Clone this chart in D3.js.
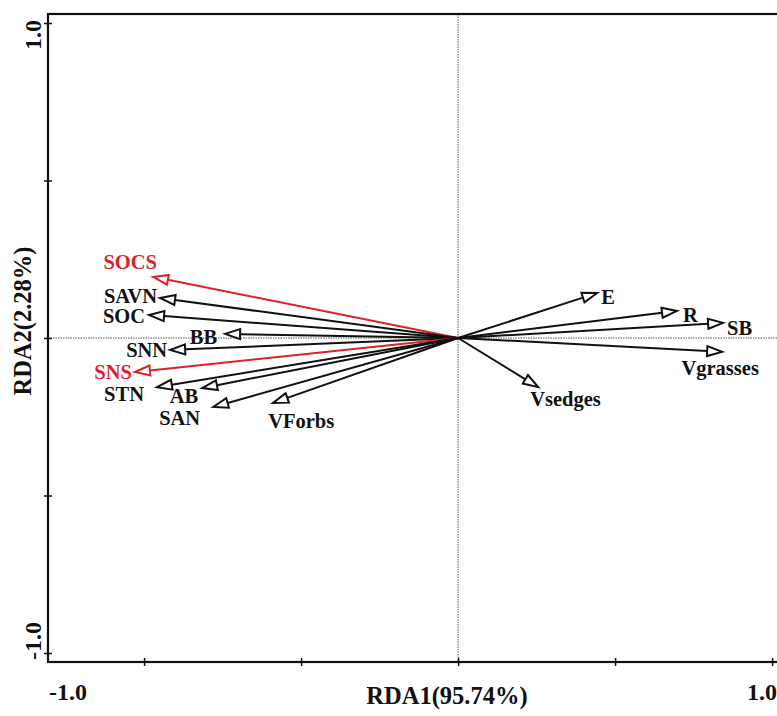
<!DOCTYPE html>
<html>
<head>
<meta charset="utf-8">
<script src="https://cdn.jsdelivr.net/npm/d3@7"></script>
<style>
  html, body { margin: 0; padding: 0; background: #fff; }
  svg { display: block; }
  text { font-family: "Liberation Serif", "Times New Roman", serif; font-weight: bold; }
</style>
</head>
<body>
<svg id="chart" width="777" height="716"></svg>
<script>
// ---- data ----
const variables = ["SOCS","SAVN","SOC","BB","SNN","SNS","STN","AB","SAN","VForbs","Vsedges","E","R","SB","Vgrasses"];
const rda1 = [-0.971,-0.949,-0.984,-0.742,-0.917,-1.029,-0.959,-0.815,-0.780,-0.589,0.255,0.443,0.697,0.844,0.841];
const rda2 = [0.194,0.127,0.073,0.013,-0.038,-0.108,-0.156,-0.159,-0.219,-0.206,-0.156,0.143,0.086,0.048,-0.044];
const highlighted = ["SOCS","SNS"];
const xTicks = [-1,-0.5,0,0.5,1];
const yTicks = [-1,-0.5,0,0.5,1];
const xTickLabels = ["-1.0","1.0"];
const yTickLabels = ["-1.0","1.0"];
const xTitle = "RDA1(95.74%)";
const yTitle = "RDA2(2.28%)";

// ---- label layout (pixel offsets from arrow tip) ----
const labelLayout = {
  SOCS:[ "middle",-23,-15], SAVN:["end",-3,-2], SOC:["end",-4,1], BB:["end",-8,3],
  SNN:["end",-3,0], SNS:["end",-3,0], STN:["end",-13,7], AB:["end",-4,8],
  SAN:["end",-13,11], VForbs:["start",-5,18], Vsedges:["start",-8,12],
  E:["start",4,4], R:["start",6,4], SB:["start",4,5], Vgrasses:["middle",-2,16]
};

const svg = d3.select("#chart");
const pL = 48, pR = 779, pT = 14, pB = 662;
const x = d3.scaleLinear().domain([-1.306, 1.022]).range([pL, pR]);
const y = d3.scaleLinear().domain([-1.0286, 1.0286]).range([pB, pT]);

// dotted zero lines
svg.append("line").attr("x1", x(0)).attr("x2", x(0)).attr("y1", pT).attr("y2", pB)
  .attr("stroke", "#555").attr("stroke-width", 1).attr("stroke-dasharray", "1.5,1");
svg.append("line").attr("x1", pL).attr("x2", pR).attr("y1", y(0)).attr("y2", y(0))
  .attr("stroke", "#555").attr("stroke-width", 1).attr("stroke-dasharray", "1.5,1");

// axes with crossing ticks
const xAxis = svg.append("g").attr("transform", `translate(0,${pB})`)
  .call(d3.axisBottom(x).tickValues(xTicks).tickSize(4).tickFormat(""));
const yAxis = svg.append("g").attr("transform", `translate(${pL},0)`)
  .call(d3.axisLeft(y).tickValues(yTicks).tickSize(4).tickFormat(""));
[xAxis, yAxis].forEach(g => { g.select(".domain").remove(); g.selectAll("line").attr("stroke", "#111").attr("stroke-width", 1.5); });
xAxis.selectAll(".tick line").attr("y1", -4);
yAxis.selectAll(".tick line").attr("x1", 4);

// frame
svg.append("rect").attr("x", pL).attr("y", pT).attr("width", pR - pL).attr("height", pB - pT)
  .attr("fill", "none").attr("stroke", "#111").attr("stroke-width", 2.2);

// tick labels
svg.append("text").attr("x", pL + 1).attr("y", 700).attr("font-size", 24).attr("text-anchor", "start").attr("fill", "#111").text(xTickLabels[0]);
svg.append("text").attr("x", 777).attr("y", 700).attr("font-size", 24).attr("text-anchor", "end").attr("fill", "#111").text(xTickLabels[1]);
svg.append("text").attr("transform", `translate(41,${y(-1) + 7}) rotate(-90)`).attr("font-size", 24).attr("text-anchor", "start").attr("fill", "#111").text(yTickLabels[0]);
svg.append("text").attr("transform", `translate(41,${y(1) - 3}) rotate(-90)`).attr("font-size", 24).attr("text-anchor", "end").attr("fill", "#111").text(yTickLabels[1]);

// axis titles
svg.append("text").attr("x", 447).attr("y", 704).attr("font-size", 24.5).attr("text-anchor", "middle").attr("fill", "#111").text(xTitle);
svg.append("text").attr("transform", `translate(31,321) rotate(-90)`).attr("font-size", 24.5).attr("text-anchor", "middle").attr("fill", "#111").text(yTitle);

// arrows
const headLen = 15, headHalf = 5;
const g = svg.append("g");
variables.forEach((name, i) => {
  const col = highlighted.includes(name) ? "#dc2329" : "#111";
  const x0 = x(0), y0 = y(0), x1 = x(rda1[i]), y1 = y(rda2[i]);
  const ang = Math.atan2(y1 - y0, x1 - x0);
  const bx = x1 - headLen * Math.cos(ang), by = y1 - headLen * Math.sin(ang);
  const px = -Math.sin(ang) * headHalf, py = Math.cos(ang) * headHalf;
  g.append("line").attr("x1", x0).attr("y1", y0).attr("x2", bx).attr("y2", by)
    .attr("stroke", col).attr("stroke-width", 2);
  g.append("polygon")
    .attr("points", [[x1, y1], [bx + px, by + py], [bx - px, by - py]].map(p => p.join(",")).join(" "))
    .attr("fill", "#fff").attr("stroke", col).attr("stroke-width", 2).attr("stroke-linejoin", "miter");
  const lay = labelLayout[name];
  g.append("text").attr("x", x1 + lay[1]).attr("y", y1 + lay[2] + 7)
    .attr("font-size", 20.5).attr("text-anchor", lay[0]).attr("fill", col).text(name);
});
</script>
</body>
</html>
